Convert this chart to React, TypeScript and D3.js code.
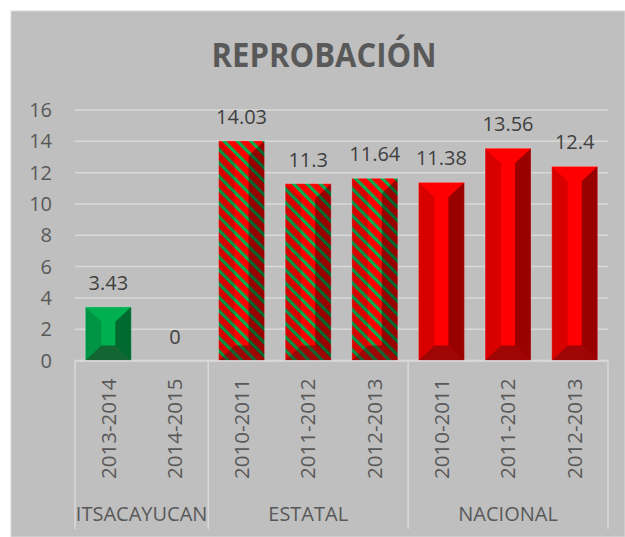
import React from "react";
import * as d3 from "d3";

const title = "REPROBACIÓN";
const years = ["2013-2014", "2014-2015", "2010-2011", "2011-2012", "2012-2013", "2010-2011", "2011-2012", "2012-2013"];
const groupOf = ["ITSACAYUCAN", "ITSACAYUCAN", "ESTATAL", "ESTATAL", "ESTATAL", "NACIONAL", "NACIONAL", "NACIONAL"];
const groups = ["ITSACAYUCAN", "ESTATAL", "NACIONAL"];
const values = [3.43, 0, 14.03, 11.3, 11.64, 11.38, 13.56, 12.4];
const yTicks = [0, 2, 4, 6, 8, 10, 12, 14, 16];

const W = 625, H = 537;
const plotL = 75, plotR = 608, plotT = 110, plotB = 360.5;
const FONT = "'Open Sans', 'DejaVu Sans', sans-serif";

export default function App() {
  const x = d3.scaleBand<number>().domain(d3.range(values.length)).range([plotL, plotR]).padding(0);
  const y = d3.scaleLinear().domain([0, 16]).range([plotB, plotT]);
  const barW = x.bandwidth() * 0.69;

  const groupExtents = groups.map((g) => {
    const idx = groupOf.map((v, i) => (v === g ? i : -1)).filter((i) => i >= 0);
    const a = x(idx[0])!;
    const b = x(idx[idx.length - 1])! + x.bandwidth();
    return { g, a, b };
  });

  const baseFill = (i: number) =>
    groupOf[i] === "ITSACAYUCAN" ? "#00b050" : groupOf[i] === "ESTATAL" ? "url(#hatch)" : "#ff0000";

  return (
    <svg width={W} height={H} style={{ position: "absolute", left: 0, top: 0 }} fontFamily={FONT}>
      <defs>
        <pattern id="hatch" patternUnits="userSpaceOnUse" width={9.5} height={9.5} patternTransform="rotate(-45)">
          <rect width={9.5} height={9.5} fill="#ff0000" />
          <rect x={0} y={0} width={3.2} height={9.5} fill="#00b050" />
        </pattern>
      </defs>
      <rect x={0} y={0} width={W} height={H} fill="#ffffff" />
      <rect x={11} y={11} width={W - 11} height={H - 11} fill="#bfbfbf" stroke="#d9d9d9" strokeWidth={1} />
      <text x={324} y={66.5} textAnchor="middle" fontSize={34} fontWeight={700} fill="#595959" textLength={225} lengthAdjust="spacingAndGlyphs">
        {title}
      </text>
      {yTicks.map((t) => (
        <g key={t}>
          <line x1={plotL} x2={plotR} y1={y(t)} y2={y(t)} stroke="#d9d9d9" strokeWidth={1.5} />
          <text x={52} y={y(t)} dy="0.35em" textAnchor="end" fontSize={20} fill="#595959">
            {t}
          </text>
        </g>
      ))}
      {values.map((v, i) => {
        const cx = x(i)! + x.bandwidth() / 2;
        const x0 = cx - barW / 2, x1 = cx + barW / 2;
        const y0 = y(v), y1 = y(0);
        const h = y1 - y0;
        const bx = Math.min(16, barW / 2);
        const by = Math.min(15, h / 2);
        const pts = (p: number[][]) => p.map((q) => q.join(",")).join(" ");
        return (
          <g key={i}>
            {h > 0 && (
              <>
                <rect x={x0} y={y0} width={barW} height={h} fill={baseFill(i)} />
                <polygon points={pts([[x0, y0], [x0 + bx, y0 + by], [x0 + bx, y1 - by], [x0, y1]])} fill="#000" fillOpacity={0.15} />
                <polygon points={pts([[x1, y0], [x1 - bx, y0 + by], [x1 - bx, y1 - by], [x1, y1]])} fill="#000" fillOpacity={0.4} />
                <polygon points={pts([[x0, y1], [x1, y1], [x1 - bx, y1 - by], [x0 + bx, y1 - by]])} fill="#2a0a0a" fillOpacity={0.45} />
                <rect x={x0} y={y0} width={barW} height={h} fill="none" stroke="#ffffff" strokeOpacity={0.25} strokeWidth={1} />
              </>
            )}
            <text x={cx} y={y0 - 17} textAnchor="middle" fontSize={20} fill="#404040">
              {v}
            </text>
          </g>
        );
      })}
      <line x1={plotL} x2={plotR} y1={plotB + 0.5} y2={plotB + 0.5} stroke="#d9d9d9" strokeWidth={1.5} />
      {[plotL, ...groupExtents.map((e) => e.b)].map((xx, i) => (
        <line key={i} x1={xx} x2={xx} y1={plotB} y2={529} stroke="#d9d9d9" strokeWidth={1.5} />
      ))}
      {years.map((yr, i) => {
        const cx = x(i)! + x.bandwidth() / 2;
        return (
          <text key={i} transform={`translate(${cx},${479}) rotate(-90)`} x={0} y={0} dy="0.35em" textAnchor="start" fontSize={20.5} fill="#595959">
            {yr}
          </text>
        );
      })}
      {groupExtents.map((e) => (
        <text key={e.g} x={(e.a + e.b) / 2} y={521} textAnchor="middle" fontSize={20} fill="#595959">
          {e.g}
        </text>
      ))}
    </svg>
  );
}
